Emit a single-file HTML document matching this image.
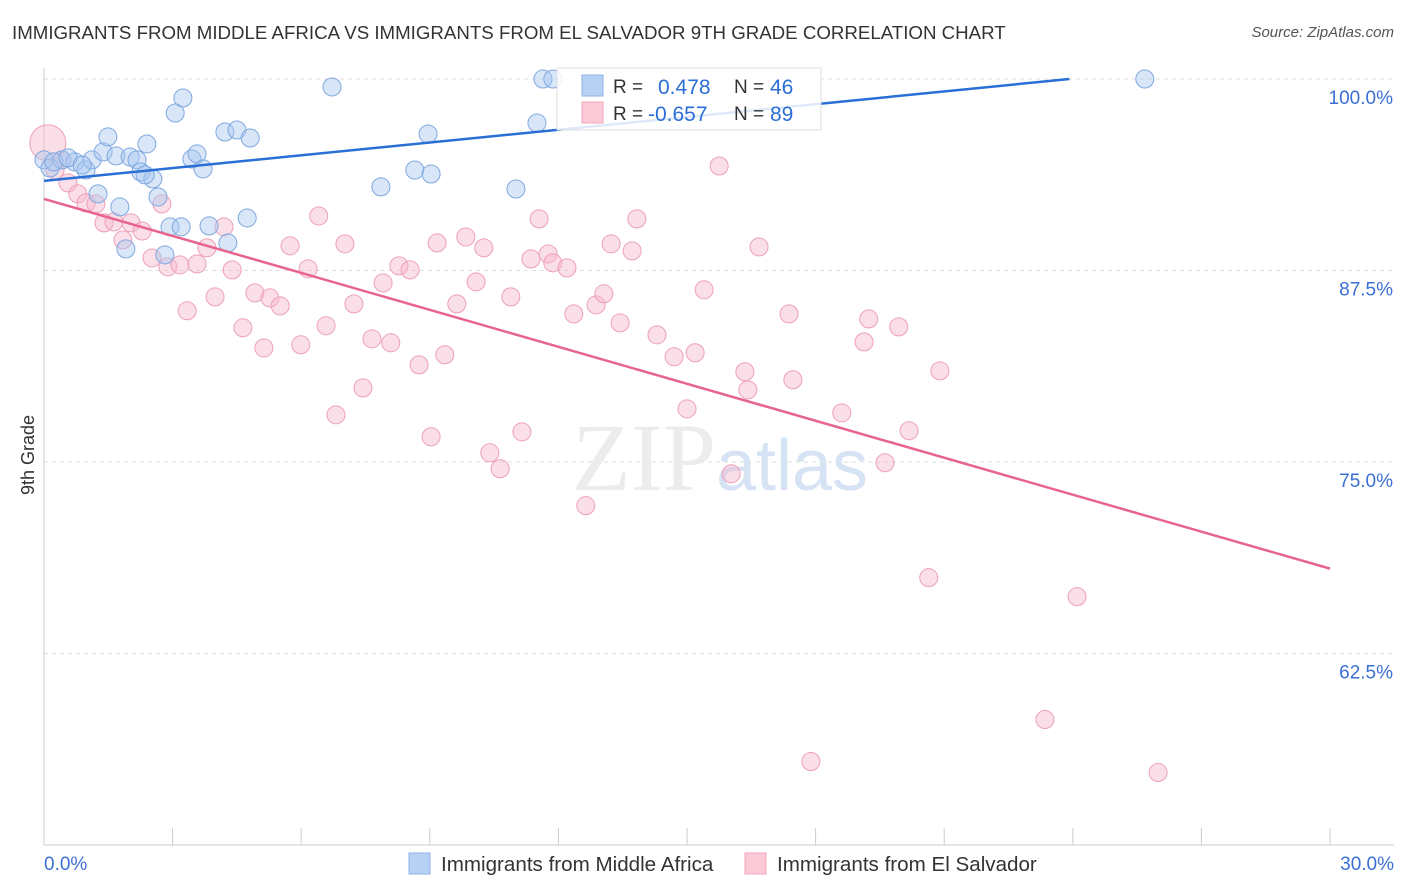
<!DOCTYPE html>
<html><head><meta charset="utf-8">
<style>
body{margin:0;background:#fff;font-family:"Liberation Sans",sans-serif;}
#wrap{position:relative;width:1406px;height:892px;overflow:hidden;}
.t{position:absolute;white-space:nowrap;}
</style></head>
<body>
<div id="wrap">
<div class="t" style="left:12px;top:22px;font-size:18.7px;color:#333;">IMMIGRANTS FROM MIDDLE AFRICA VS IMMIGRANTS FROM EL SALVADOR 9TH GRADE CORRELATION CHART</div>
<div class="t" style="right:12px;top:24px;font-size:15px;color:#555;font-style:italic;">Source: ZipAtlas.com</div>
<svg id="svg" width="1406" height="892" style="position:absolute;left:0;top:0"></svg>
</div>
<script>
const yTicks=[100,87.5,75,62.5];
const yTickLabels=["100.0%","87.5%","75.0%","62.5%"];
const xTickLabels=["0.0%","30.0%"];
const blueX=[0,0.14,0.42,0.72,0.98,1.12,1.26,1.38,1.49,1.68,1.77,1.91,2.01,2.17,2.26,2.40,2.54,2.66,2.82,2.94,3.06,3.20,3.24,3.45,3.57,3.71,3.85,4.22,4.29,4.50,4.74,4.81,6.72,7.86,8.65,8.96,9.03,11.01,11.50,11.64,11.87,25.68,0.23,0.56,0.89,2.36];
const blueY=[94.72,94.19,94.72,94.59,94.06,94.72,92.5,95.24,96.22,94.98,91.65,88.91,94.91,94.72,93.93,95.76,93.48,92.3,88.52,90.35,97.78,90.35,98.76,94.78,95.11,94.13,90.41,96.54,89.3,96.67,90.93,96.15,99.48,92.96,94.06,96.41,93.8,92.82,97.13,100,100,100,94.59,94.85,94.39,93.74];
const pinkX=[0.09,0.26,0.42,0.56,0.79,0.98,1.21,1.40,1.63,1.84,2.03,2.29,2.52,2.75,2.89,3.17,3.34,3.57,3.80,3.99,4.20,4.39,4.64,4.92,5.13,5.27,5.51,5.74,5.99,6.16,6.41,6.58,6.81,7.02,7.23,7.44,7.65,7.91,8.09,8.28,8.54,8.75,9.03,9.17,9.35,9.63,9.84,10.08,10.26,10.40,10.64,10.89,11.15,11.36,11.55,11.76,11.87,12.20,12.36,12.64,12.88,13.06,13.23,13.44,13.72,13.83,14.30,14.70,15.00,15.19,15.40,15.75,16.03,16.35,16.42,16.68,17.38,17.47,18.61,19.13,19.24,19.62,19.94,20.18,20.64,20.90,23.35,24.10,17.89,25.99];
const pinkY=[95.83,94.06,94.72,93.22,92.5,91.91,91.85,90.61,90.67,89.5,90.61,90.08,88.32,91.85,87.74,87.87,84.87,87.93,88.98,85.78,90.35,87.54,83.76,86.04,82.45,85.71,85.19,89.11,82.65,87.61,91.06,83.89,78.08,89.24,85.32,79.84,83.04,86.69,82.78,87.8,87.54,81.34,76.65,89.3,82,85.32,89.69,86.76,88.98,75.6,74.56,85.78,76.97,88.26,90.87,88.58,88,87.67,84.67,72.15,85.26,85.98,89.24,84.08,88.78,90.87,83.3,81.87,78.47,82.13,86.24,94.32,74.23,80.89,79.71,89.04,84.67,80.37,78.21,82.84,84.34,74.95,83.82,77.04,67.45,80.95,58.19,66.21,55.45,54.73];
const blueTrend=[93.35,101.69];
const pinkTrend=[92.17,68.04];

const NS="http://www.w3.org/2000/svg";
const svg=document.getElementById('svg');
const X0=44,X1=1330,Ytop=79,Ybot=845;
const sx=v=>X0+(v/30)*(X1-X0);
const sy=v=>Ytop+(100-v)*(Ybot-Ytop)/50;
function el(tag,attrs,parent){const e=document.createElementNS(NS,tag);for(const k in attrs)e.setAttribute(k,attrs[k]);(parent||svg).appendChild(e);return e;}

yTicks.forEach((v,i)=>{
  const g=el('line',{x1:X0,x2:1394,y1:sy(v),y2:sy(v),stroke:'#ddd','stroke-dasharray':'4,4'});
  
  
  const t=el('text',{x:1393,y:sy(v)+25,'text-anchor':'end','font-size':19,fill:'#3b6fd4','font-family':'Liberation Sans'});
  t.textContent=yTickLabels[i];
  
  
});
const ax=el('line',{x1:X0,x2:1394,y1:Ybot,y2:Ybot,stroke:'#ccc'});


const ay=el('line',{x1:X0,x2:X0,y1:68,y2:Ybot,stroke:'#ccc'});


for(let i=0;i<=10;i++){
  const tk=el('line',{x1:sx(i*3),x2:sx(i*3),y1:828,y2:Ybot,stroke:'#ccc'});
  
  
}
[[0,'start',X0],[1,'end',1394]].forEach(([i,a,x])=>{
  const t=el('text',{x:x,y:870,'text-anchor':a,'font-size':19,fill:'#3b6fd4','font-family':'Liberation Sans'});
  t.textContent=xTickLabels[i];
  
  
});
const yt=el('text',{x:34,y:455,'text-anchor':'middle','font-size':18,fill:'#333',transform:'rotate(-90 34 455)','font-family':'Liberation Sans'});
yt.textContent='9th Grade';


const wm=el('text',{x:720,y:490,'text-anchor':'middle','font-size':96,'font-family':'Liberation Serif',fill:'#ececec'});
wm.innerHTML='ZIP<tspan fill="#d6e3f4" font-family="Liberation Sans" font-size="72">atlas</tspan>';



function pts(xs,ys,fill,stroke,name){
  xs.forEach((x,i)=>{
    const r=(name==='pink-point'&&i===0)?18:9;
    const c=el('circle',{cx:sx(x),cy:sy(ys[i]),r:r,fill:fill,stroke:stroke,'stroke-width':1,'fill-opacity':0.45});
    
    
  });
}
pts(pinkX,pinkY,'#f7b8cb','#eea0b8','pink-point');
pts(blueX,blueY,'#a9c8f0','#7fa8e0','blue-point');

const bEndX=(100-blueTrend[0])/((blueTrend[1]-blueTrend[0])/30);
const bl=el('line',{x1:sx(0),y1:sy(blueTrend[0]),x2:sx(Math.min(30,bEndX)),y2:sy(Math.min(100,blueTrend[1])),stroke:'#2a6fd6','stroke-width':2.5});


const pl=el('line',{x1:sx(0),y1:sy(pinkTrend[0]),x2:sx(30),y2:sy(pinkTrend[1]),stroke:'#e8648e','stroke-width':2.5});



const lg=el('g',{});


el('rect',{x:557,y:68,width:264,height:62,fill:'#fff','fill-opacity':0.85,stroke:'#ddd'},lg);
el('rect',{x:582,y:75,width:21,height:21,fill:'#b7d1f4',stroke:'#8fb3e6'},lg);
el('rect',{x:582,y:102,width:21,height:21,fill:'#fcc9d7',stroke:'#f0a5bb'},lg);
function tx(x,y,s,c,n,fs){const t=el('text',{x:x,y:y,'font-size':fs||19,fill:c,'font-family':'Liberation Sans'},lg);t.textContent=s;}
tx(613,93,'R =','#333','r-label');tx(658,94,'0.478','#2a6fd6','r-value-blue',21);tx(734,93,'N =','#333','n-label');tx(770,94,'46','#2a6fd6','n-value-blue',21);
tx(613,120,'R =','#333','r-label');tx(648,121,'-0.657','#2a6fd6','r-value-pink',21);tx(734,120,'N =','#333','n-label');tx(770,121,'89','#2a6fd6','n-value-pink',21);

const bl2=el('g',{});


el('rect',{x:409,y:853,width:21,height:21,fill:'#b7d1f4',stroke:'#8fb3e6'},bl2);
el('rect',{x:745,y:853,width:21,height:21,fill:'#fcc9d7',stroke:'#f0a5bb'},bl2);
const l1=el('text',{x:441,y:871,'font-size':20.6,fill:'#333','font-family':'Liberation Sans'},bl2);l1.textContent='Immigrants from Middle Africa';


const l2=el('text',{x:777,y:871,'font-size':20.6,fill:'#333','font-family':'Liberation Sans'},bl2);l2.textContent='Immigrants from El Salvador';


</script>
</body></html>
